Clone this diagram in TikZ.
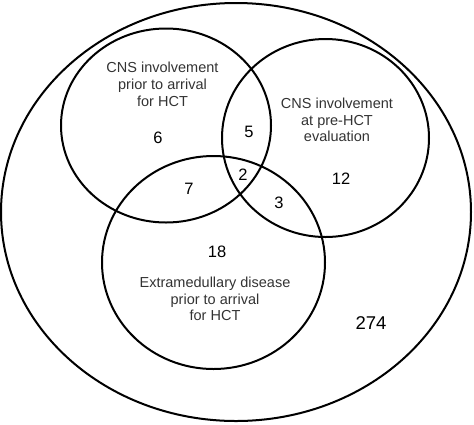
\documentclass[tikz,border=0pt]{standalone}
\usepackage{fontspec}
\setmainfont{Liberation Sans}
\begin{document}
\begin{tikzpicture}[x=1pt,y=-1pt,
  ring/.style={draw=black,line width=2pt},
  lbl/.style={align=center,inner sep=0pt,text=black!80,font=\fontsize{14.5}{16.7}\selectfont},
  num/.style={inner sep=0pt,font=\fontsize{16.5}{18}\selectfont},
  bignum/.style={inner sep=0pt,font=\fontsize{18.5}{20}\selectfont}]
\useasboundingbox (0,0) rectangle (474,424);
\draw[ring] (236,212) ellipse [x radius=235pt, y radius=209pt];
\draw[ring] (166,125.5) ellipse [x radius=105pt, y radius=97pt];
\draw[ring] (325.5,138) ellipse [x radius=103.5pt, y radius=99pt];
\draw[ring] (213.5,262.5) ellipse [x radius=111.5pt, y radius=106.5pt];
\node[lbl] (la) at (162.5,84.5) {CNS involvement\\prior to arrival\\for HCT};
\node[lbl] (lb) at (337,120) {CNS involvement\\at pre-HCT\\evaluation};
\node[lbl] (lc) at (215,299) {Extramedullary disease\\prior to arrival\\for HCT};
\node[num] (n6) at (158,138) {6};
\node[num] (n5) at (249,132) {5};
\node[num] (n12) at (341,179) {12};
\node[num] (n2) at (243,175) {2};
\node[num] (n7) at (189,189) {7};
\node[num] (n3) at (279,203) {3};
\node[num] (n18) at (217,252) {18};
\node[bignum] (n274) at (371,323) {274};
\end{tikzpicture}
\end{document}
